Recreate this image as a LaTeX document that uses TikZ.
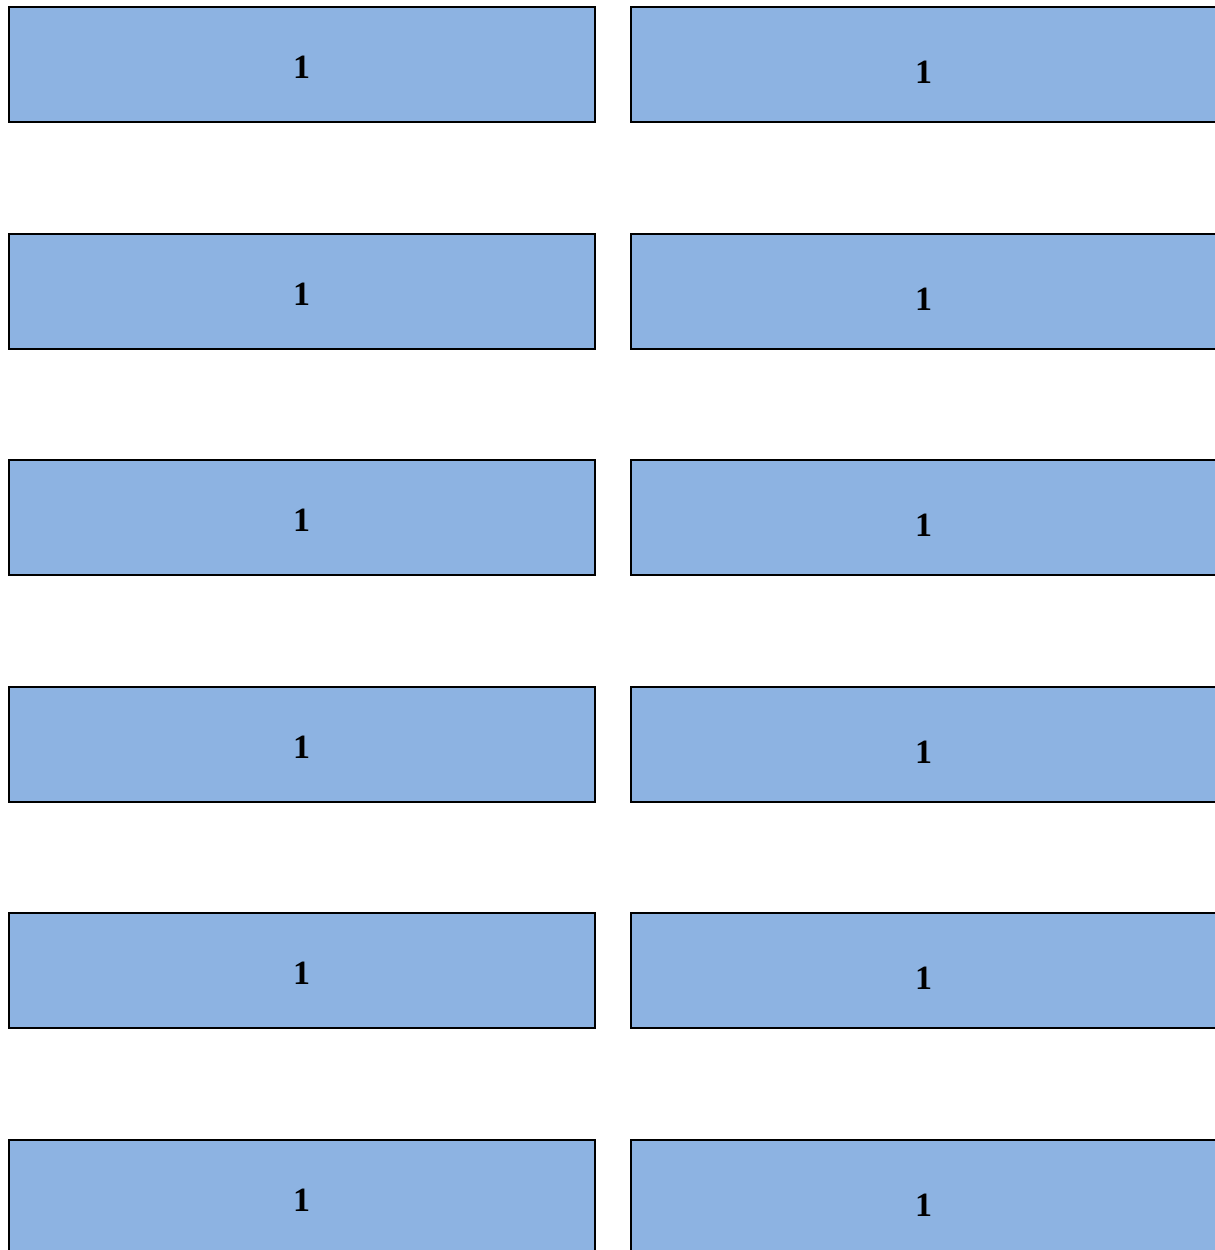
\documentclass[tikz,border=0pt]{standalone}
\usepackage{fontspec}
\setmainfont{Liberation Serif}
\usetikzlibrary{positioning}
\definecolor{cellblue}{HTML}{8DB3E2}

\begin{document}
\begin{tikzpicture}[
cell/.style={rectangle, draw, line width=1pt, fill=cellblue,
minimum width=293pt, minimum height=57.5pt, inner sep=0pt,
font=\fontsize{17}{20}\selectfont\bfseries, text depth=0pt},
lcell/.style={cell, text height=14pt},
rcell/.style={cell, text height=19pt},
node distance=54.8pt and 17pt
]
\useasboundingbox (0,0) rectangle (607.5pt,-625pt);
% left column
\node[lcell, anchor=north west] (L1) at (3.8pt,-3pt) {1};
\node[lcell, below=of L1] (L2) {1};
\node[lcell, below=of L2] (L3) {1};
\node[lcell, below=of L3] (L4) {1};
\node[lcell, below=of L4] (L5) {1};
\node[lcell, below=of L5] (L6) {1};
% right column
\node[rcell, right=of L1] (R1) {1};
\node[rcell, right=of L2] (R2) {1};
\node[rcell, right=of L3] (R3) {1};
\node[rcell, right=of L4] (R4) {1};
\node[rcell, right=of L5] (R5) {1};
\node[rcell, right=of L6] (R6) {1};
\end{tikzpicture}
\end{document}
